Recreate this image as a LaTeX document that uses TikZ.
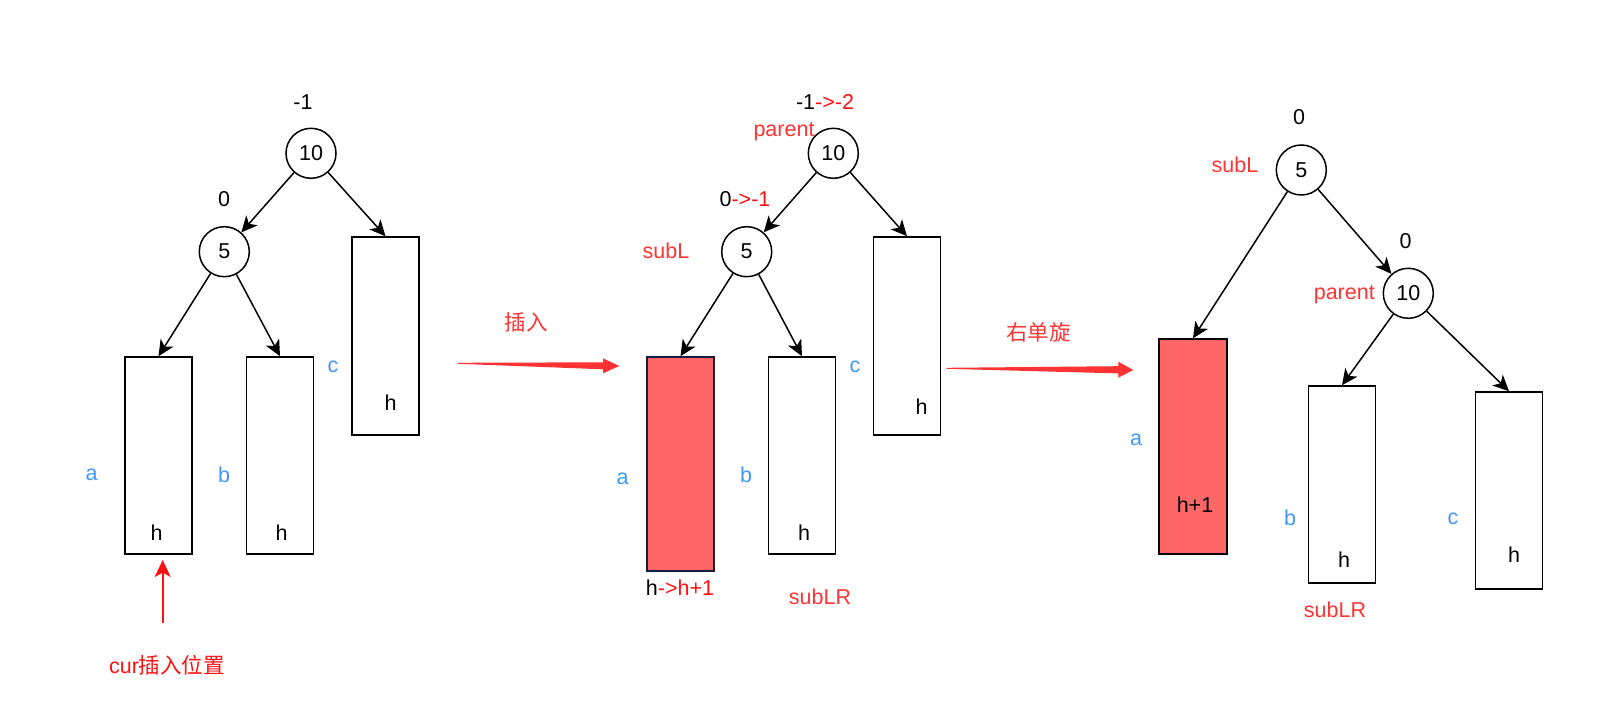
\documentclass[tikz,border=0pt]{standalone}
\usepackage{fontspec}
\setmainfont{Liberation Sans}
\newfontfamily\cjkfont{Noto Sans CJK SC}
\usetikzlibrary{arrows.meta}
\definecolor{lblred}{HTML}{FF3333}
\definecolor{purered}{HTML}{FF1111}
\definecolor{lblblue}{HTML}{3D97FF}
\definecolor{boxred}{HTML}{FF6666}
\definecolor{arrred}{HTML}{FF3333}
\definecolor{navyline}{HTML}{1A1A3A}
\begin{document}
\begin{tikzpicture}[x=1pt,y=-1pt,
  every node/.style={font=\fontsize{21.5}{24}\selectfont, inner sep=0pt},
  treenode/.style={circle, draw, line width=1.5pt, minimum size=50pt},
  subtree/.style={rectangle, draw, line width=1.5pt, minimum width=67pt, minimum height=197pt},
  link/.style={line width=1.5pt, -{Stealth[length=16pt,width=15pt,inset=4.5pt]}},
  redlbl/.style={text=lblred},
  bluelbl/.style={text=lblblue},
]
\useasboundingbox (0,0) rectangle (1616,727);

% ---------- left tree ----------
\node[treenode] (l10) at (311,153.3) {10};
\node[treenode] (l5) at (224.3,251.7) {5};
\node[subtree] (la) at (158.5,455.5) {};
\node[subtree] (lb) at (280,455.5) {};
\node[subtree, minimum height=198pt] (lc) at (385.5,336) {};
\node (lbf10) at (303,102) {-1};
\node (lbf5) at (224,199) {0};
\node[bluelbl] (lal) at (91.7,475) {a};
\node[bluelbl] (lbl) at (224,475) {b};
\node[bluelbl] (lcl) at (333,367) {c};
\node (lah) at (156.7,532.7) {h};
\node (lbh) at (281.7,532.7) {h};
\node (lch) at (390.7,402.5) {h};
\draw[link] (l10) -- (l5);
\draw[link] (l10) -- (lc.north);
\draw[link] (l5) -- (la.north);
\draw[link] (l5) -- (lb.north);
\node[text=purered] (curlbl) at (167,665) {cur{\cjkfont 插入位置}};
\coordinate (curtail) at (162.7,623);
\coordinate (curtip) at (162.7,560);
\draw[purered, line width=1.6pt, -{Stealth[length=17pt,width=16pt,inset=4.5pt]}] (curtail) -- (curtip);

% ---------- arrow 1 ----------
\node[redlbl] (ins) at (526,322.7) {{\cjkfont 插入}};
\coordinate (r1tail) at (458,363.3);
\coordinate (r1tip) at (619.3,366);
\fill[arrred] (r1tail) -- (458,362.8) -- (603,362.3) -- (603,358.3) -- (r1tip) -- (603,373.3) -- (603,369.3) -- (458,363.8) -- cycle;

% ---------- middle tree ----------
\node[treenode] (m10) at (833.3,153.3) {10};
\node[treenode] (m5) at (746.7,251.7) {5};
\node[subtree, fill=boxred, draw=navyline, minimum height=214pt] (ma) at (680.5,464) {};
\node[subtree] (mb) at (802,455.5) {};
\node[subtree, minimum height=198pt] (mc) at (907,336) {};
\node (mbf10) at (825,102) {-1\textcolor{purered}{->-2}};
\node[redlbl] (mpar) at (784,131.5) {parent};
\node (mbf5) at (745,199) {0\textcolor{purered}{->-1}};
\node[redlbl] (msubl) at (666,251) {subL};
\node[bluelbl] (mal) at (622.7,479) {a};
\node[bluelbl] (mbl) at (746,475) {b};
\node[bluelbl] (mcl) at (855,367) {c};
\node (mbh) at (804,532.7) {h};
\node (mch) at (921.7,406.5) {h};
\node (mah) at (680,588) {h\textcolor{purered}{->h+1}};
\node[redlbl] (msublr) at (820,596.5) {subLR};
\draw[link] (m10) -- (m5);
\draw[link] (m10) -- (mc.north);
\draw[link] (m5) -- (ma.north);
\draw[link] (m5) -- (mb.north);

% ---------- arrow 2 ----------
\node[redlbl] (rot) at (1038.3,332.3) {{\cjkfont 右单旋}};
\coordinate (r2tail) at (946.7,368.3);
\coordinate (r2tip) at (1133.3,370);
\fill[arrred] (r2tail) -- (946.7,367.8) -- (1118.3,366.2) -- (1118.3,361.7) -- (r2tip) -- (1118.3,377.7) -- (1118.3,373.4) -- (946.7,368.8) -- cycle;

% ---------- right tree ----------
\node[treenode] (r5) at (1301.3,170) {5};
\node[treenode] (r10) at (1408.3,293.3) {10};
\node[subtree, fill=boxred, minimum height=215pt, minimum width=68pt] (ra) at (1193,446.5) {};
\node[subtree] (rb) at (1342,484.5) {};
\node[subtree] (rc) at (1509,490.5) {};
\node (rbf5) at (1299,117.5) {0};
\node[redlbl] (rsubl) at (1235,165) {subL};
\node (rbf10) at (1405.7,241.5) {0};
\node[redlbl] (rpar) at (1344.3,294.5) {parent};
\node[bluelbl] (ral) at (1136,440) {a};
\node (rah) at (1195,505) {h+1};
\node[bluelbl] (rbl) at (1290,518) {b};
\node[bluelbl] (rcl) at (1453,518.5) {c};
\node (rbh) at (1344,560) {h};
\node (rch) at (1514,555) {h};
\node[redlbl] (rsublr) at (1335,610) {subLR};
\draw[link] (r5) -- (ra.north);
\draw[link] (r5) -- (r10);
\draw[link] (r10) -- (rb.north);
\draw[link] (r10) -- (rc.north);
\end{tikzpicture}
\end{document}
